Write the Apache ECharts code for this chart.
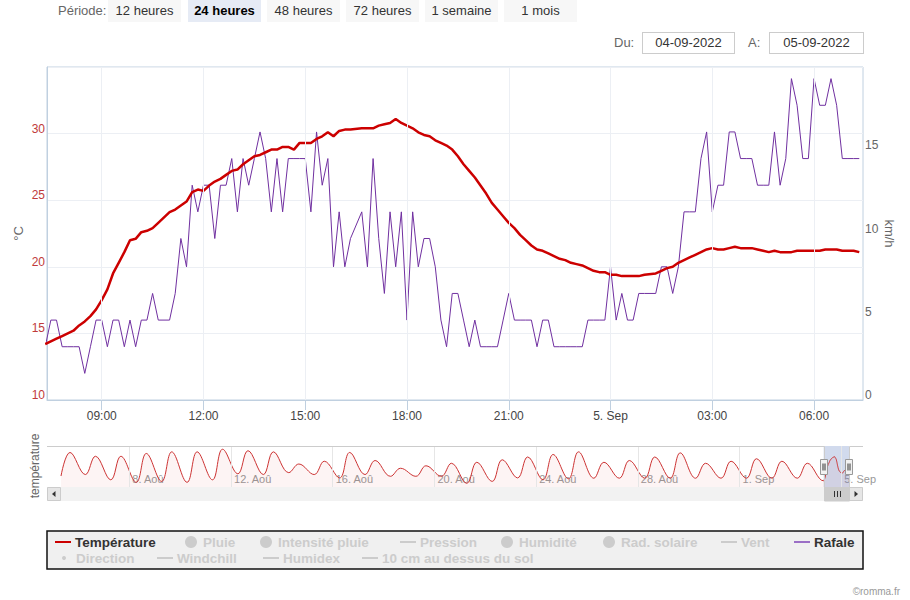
<!DOCTYPE html>
<html>
<head>
<meta charset="utf-8">
<script src="https://cdn.jsdelivr.net/npm/echarts@6/dist/echarts.min.js"></script>
<style>
  html, body { margin:0; padding:0; width:910px; height:600px; overflow:hidden; background:#fff;
    font-family:"Liberation Sans", Arial, sans-serif; }
  #chart { position:absolute; left:0; top:0; width:910px; height:600px; }
  .ui { position:absolute; font-size:13px; color:#666; }
  .btn { position:absolute; top:0; width:73px; height:22px; line-height:22px; text-align:center;
    background:#f7f7f7; color:#333; font-size:13px; }
  .btn.sel { background:#e6ebf5; font-weight:bold; color:#000; }
  .date { position:absolute; top:32px; height:20px; line-height:20px; border:1px solid #ccc;
    text-align:center; font-size:13px; color:#333; background:#fff; }
</style>
</head>
<body>
<div id="chart"></div>
<div class="ui" style="left:58px;top:3px;">Période:</div>
<div class="btn" style="left:108px;">12 heures</div>
<div class="btn sel" style="left:188px;">24 heures</div>
<div class="btn" style="left:267px;">48 heures</div>
<div class="btn" style="left:346px;">72 heures</div>
<div class="btn" style="left:425px;">1 semaine</div>
<div class="btn" style="left:504px;">1 mois</div>
<div class="ui" style="left:614px;top:35px;">Du:</div>
<div class="date" style="left:642px;width:91px;">04-09-2022</div>
<div class="ui" style="left:748px;top:35px;">A:</div>
<div class="date" style="left:769px;width:93px;">05-09-2022</div>
<script>
// ---------------- DATA ----------------
// 10-minute records from 04-09-2022 07:20 to 05-09-2022 07:20 (null = missing record)
const temperature = [
  14.2,
  14.4,14.6,14.8,15.0,15.2,15.6,15.9,16.3,16.8,17.5,
  18.3,19.5,20.3,21.1,22.0,22.1,22.6,22.7,22.9,23.3,
  null,
  24.1,24.3,24.6,24.9,25.6,25.8,25.7,26.1,26.4,26.6,
  26.9,27.2,27.3,27.7,28.0,28.3,28.4,28.6,28.8,28.8,
  29.0,29.0,28.8,29.3,29.3,29.3,29.6,29.8,30.1,29.8,
  30.2,30.3,30.3,
  null,
  30.4,30.4,30.4,30.6,30.7,30.8,31.1,
  30.8,30.6,30.4,30.1,29.9,29.8,29.5,29.3,29.1,28.8,
  28.3,27.7,27.2,26.7,26.1,25.5,24.8,24.3,23.8,23.3,
  22.9,22.4,22.0,21.6,21.3,21.2,21.0,20.8,20.6,20.5,
  20.3,20.2,20.1,19.9,19.7,19.6,19.6,19.4,19.4,19.3,
  19.3,19.3,19.3,19.4,
  null,
  19.5,19.7,19.9,20.0,20.3,20.5,
  20.7,20.9,21.1,21.3,21.4,21.3,21.3,21.4,21.5,21.4,
  21.4,21.4,21.3,21.2,21.1,21.2,21.1,21.1,21.1,21.2,
  21.2,21.2,21.2,21.2,21.3,21.3,21.3,21.2,21.2,21.2,
  21.1
];
const rafale = [
  3.2,
  4.8,4.8,3.2,3.2,3.2,3.2,1.6,3.2,4.8,4.8,
  3.2,4.8,4.8,3.2,4.8,3.2,4.8,4.8,6.4,4.8,
  null,
  4.8,6.4,9.7,8.0,12.9,11.3,12.9,12.9,9.7,12.9,
  12.9,14.5,11.3,14.5,12.9,14.5,16.1,14.5,11.3,14.5,
  11.3,14.5,14.5,14.5,14.5,11.3,16.1,12.9,14.5,8.0,
  11.3,8.0,9.7,
  null,
  11.3,8.0,14.5,9.7,6.4,11.3,8.0,
  11.3,4.8,11.3,8.0,9.7,9.7,8.0,4.8,3.2,6.4,
  6.4,4.8,3.2,4.8,3.2,3.2,3.2,3.2,4.8,6.4,
  4.8,4.8,4.8,4.8,3.2,4.8,4.8,3.2,3.2,3.2,
  3.2,3.2,3.2,4.8,4.8,4.8,4.8,8.0,4.8,6.4,
  4.8,4.8,6.4,6.4,
  null,
  6.4,8.0,8.0,6.4,8.0,11.3,
  11.3,11.3,14.5,16.1,11.3,12.9,12.9,16.1,16.1,14.5,
  14.5,14.5,12.9,12.9,12.9,16.1,12.9,14.5,19.3,17.7,
  14.5,14.5,19.3,17.7,17.7,19.3,17.7,14.5,14.5,14.5,
  14.5
];
const firstRecord = new Date(2022, 8, 4, 7, 20).getTime();
const recordStep = 10 * 60 * 1000;

const xTickTimes  = ['2022-09-04T09:00','2022-09-04T12:00','2022-09-04T15:00','2022-09-04T18:00',
                     '2022-09-04T21:00','2022-09-05T00:00','2022-09-05T03:00','2022-09-05T06:00'];
const xTickLabels = ['09:00','12:00','15:00','18:00','21:00','5. Sep','03:00','06:00'];

// navigator (one month): daily afternoon maxima (5 Aug -> 3 Sep) and morning minima (6 Aug -> 3 Sep)
const navFirstValue = 17.5;
const navDailyMax = [33.6,31.0,31.0,32.9,34.0,34.0,35.8,34.8,34.0,25.7,27.6,33.6,28.1,22.8,24.5,
                     26.2,26.9,28.6,30.5,32.2,34.0,26.9,28.1,30.5,33.3,26.2,27.6,29.3,27.6,26.2];
const navDailyMin = [18.5,14.9,13.2,13.8,13.2,14.9,19.0,18.5,19.8,18.5,16.2,18.5,17.3,17.3,17.3,
                     12.5,13.8,16.2,14.9,15.6,16.0,16.0,16.0,16.0,16.0,16.0,16.0,16.0,16.0];
const navTickTimes  = ['2022-08-08T00:00','2022-08-12T00:00','2022-08-16T00:00','2022-08-20T00:00',
                       '2022-08-24T00:00','2022-08-28T00:00','2022-09-01T00:00','2022-09-05T00:00'];
const navTickLabels = ['8. Aoû','12. Aoû','16. Aoû','20. Aoû','24. Aoû','28. Aoû','1. Sep','5. Sep'];

// ---------------- BUILD ----------------
const FONT = '"Liberation Sans", Arial, sans-serif';
const tickT = xTickTimes.map(s => new Date(s).getTime());
const navT  = navTickTimes.map(s => new Date(s).getTime());
const times = temperature.map((_, j) => firstRecord + j * recordStep);
const tempData = temperature.map((v, j) => [times[j], v]);
const gustData = rafale.map((v, j) => [times[j], v]);

const winStart = new Date(2022, 8, 4, 7, 23, 12).getTime();
const winEnd   = new Date(2022, 8, 5, 7, 26, 36).getTime();
const navStart = new Date(2022, 7, 5, 7, 30).getTime();
const navEnd   = times[times.length - 1];

const navData = [[navStart, navFirstValue]];
navDailyMax.forEach((mx, d) => {
  navData.push([new Date(2022, 7, 5 + d, 16, 0).getTime(), mx]);
  if (d < navDailyMin.length) navData.push([new Date(2022, 7, 6 + d, 6, 30).getTime(), navDailyMin[d]]);
});
tempData.forEach(p => { if (p[1] !== null) navData.push(p); });

const gridLine = c => ({ silent: true, symbol: 'none', label: { show: false },
  lineStyle: { color: c, width: 1, type: 'solid' }, emphasis: { disabled: true } });

const option = {
  animation: false,
  textStyle: { fontFamily: FONT },
  grid: [
    { left: 47, top: 67, width: 816, height: 333, show: true, borderColor: '#C0D0E0', borderWidth: 1 },
    { left: 61, top: 446, width: 788, height: 41, show: false }
  ],
  xAxis: [
    { type: 'value', gridIndex: 0, min: winStart, max: winEnd,
      axisLine: { lineStyle: { color: '#C0D0E0' } },
      axisTick: { show: true, length: 10, lineStyle: { color: '#C0D0E0' }, customValues: tickT },
      axisLabel: { customValues: tickT, color: '#444', fontSize: 12, margin: 10,
        formatter: v => { const i = tickT.indexOf(v); return i >= 0 ? xTickLabels[i] : ''; } },
      splitLine: { show: false } },
    { type: 'value', gridIndex: 1, min: navStart, max: navEnd,
      axisLine: { show: false }, axisTick: { show: false },
      axisLabel: { inside: true, customValues: navT, color: '#999', fontSize: 11, margin: 3,
        align: 'left', padding: [0, 0, 0, 3],
        formatter: v => { const i = navT.indexOf(v); return i >= 0 ? navTickLabels[i] : ''; } },
      splitLine: { show: false } }
  ],
  yAxis: [
    { type: 'value', gridIndex: 0, position: 'left', min: 10, max: 35, interval: 5,
      name: '°C', nameLocation: 'middle', nameRotate: 90, nameGap: 22, nameMoveOverlap: false,
      nameTextStyle: { color: '#666', fontSize: 13 },
      axisLine: { show: true, lineStyle: { color: '#C0D0E0' } }, axisTick: { show: false },
      axisLabel: { color: '#c03a3a', fontSize: 12, margin: 2, showMaxLabel: false,
        verticalAlign: 'bottom', lineHeight: 10 },
      splitLine: { lineStyle: { color: '#eceff4' } } },
    { type: 'value', gridIndex: 0, position: 'right', min: 0, max: 20, interval: 5,
      name: 'km/h', nameLocation: 'middle', nameRotate: -90, nameGap: 20, nameMoveOverlap: false,
      nameTextStyle: { color: '#666', fontSize: 13 },
      axisLine: { show: false }, axisTick: { show: false },
      axisLabel: { color: '#666', fontSize: 12, margin: 2, showMaxLabel: false,
        verticalAlign: 'bottom', lineHeight: 10 },
      splitLine: { show: false } },
    { type: 'value', gridIndex: 1, min: 10, max: 38, show: false, splitLine: { show: false } }
  ],
  series: [
    { name: 'grille', type: 'line', xAxisIndex: 0, yAxisIndex: 0, data: [[winStart, null]], z: 1,
      showSymbol: false, lineStyle: { opacity: 0 },
      markLine: Object.assign(gridLine('#eceff4'), { data: tickT.map(t => ({ xAxis: t })) }) },
    { name: 'Température', type: 'line', xAxisIndex: 0, yAxisIndex: 0, data: tempData,
      showSymbol: false, connectNulls: true, color: '#cc0000', z: 4,
      lineStyle: { width: 2.5, color: '#cc0000' } },
    { name: 'Rafale', type: 'line', xAxisIndex: 0, yAxisIndex: 1, data: gustData,
      showSymbol: false, connectNulls: true, color: '#7030a0', z: 3,
      lineStyle: { width: 1, color: '#7030a0' } },
    { name: 'nav', type: 'line', xAxisIndex: 1, yAxisIndex: 2, data: navData, smooth: 0.4,
      showSymbol: false, silent: true, z: 2,
      lineStyle: { width: 1, color: '#cc3333' }, areaStyle: { color: 'rgba(220,60,60,0.08)' },
      markLine: Object.assign(gridLine('#e6e6e6'), { data: navT.map(t => ({ xAxis: t })) }),
      markArea: { silent: true, itemStyle: { color: 'rgba(102,133,194,0.3)' },
        data: [[{ xAxis: winStart }, { xAxis: navEnd }]] } }
  ]
};

const chart = echarts.init(document.getElementById('chart'), null, { renderer: 'svg' });
chart.setOption(option);

// ---------------- decorations (legend, navigator chrome) ----------------
const zx0 = Math.round(chart.convertToPixel({ xAxisIndex: 1 }, winStart)) + 0.5;
const zx1 = Math.round(chart.convertToPixel({ xAxisIndex: 1 }, navEnd)) + 0.5;
const NAV_TOP = 446, NAV_BOT = 487, SB_H = 14, LEFT = 47, RIGHT = 863;

const g = [];
g.push({ type: 'polyline', silent: true, z: 20,
  shape: { points: [[LEFT, NAV_TOP + 0.5], [zx0, NAV_TOP + 0.5], [zx0, NAV_BOT + SB_H], [zx1, NAV_BOT + SB_H], [zx1, NAV_TOP + 0.5], [RIGHT, NAV_TOP + 0.5]] },
  style: { stroke: '#cccccc', lineWidth: 1, fill: null } });
g.push({ type: 'rect', silent: true, z: 10, shape: { x: LEFT, y: NAV_BOT, width: RIGHT - LEFT, height: SB_H }, style: { fill: '#f2f2f2' } });
g.push({ type: 'rect', silent: true, z: 11, shape: { x: LEFT + 0.5, y: NAV_BOT + 0.5, width: 13, height: 13 }, style: { fill: '#e6e6e6', stroke: '#cccccc' } });
g.push({ type: 'rect', silent: true, z: 11, shape: { x: RIGHT - 13.5, y: NAV_BOT + 0.5, width: 13, height: 13 }, style: { fill: '#e6e6e6', stroke: '#cccccc' } });
g.push({ type: 'polygon', silent: true, z: 12, shape: { points: [[LEFT + 8.5, NAV_BOT + 4], [LEFT + 8.5, NAV_BOT + 10], [LEFT + 5, NAV_BOT + 7]] }, style: { fill: '#333' } });
g.push({ type: 'polygon', silent: true, z: 12, shape: { points: [[RIGHT - 8.5, NAV_BOT + 4], [RIGHT - 8.5, NAV_BOT + 10], [RIGHT - 5, NAV_BOT + 7]] }, style: { fill: '#333' } });
g.push({ type: 'rect', silent: true, z: 11, shape: { x: zx0, y: NAV_BOT + 0.5, width: zx1 - zx0, height: 13 }, style: { fill: '#cccccc', stroke: '#cccccc' } });
const mid = Math.round((zx0 + zx1) / 2) + 0.5;
[-3, 0, 3].forEach(d => g.push({ type: 'line', silent: true, z: 12,
  shape: { x1: mid + d, y1: NAV_BOT + 4, x2: mid + d, y2: NAV_BOT + 10 }, style: { stroke: '#333', lineWidth: 1 } }));
[zx0, zx1].forEach(hx => {
  const hy = Math.round((NAV_TOP + NAV_BOT) / 2) - 7.5;
  g.push({ type: 'rect', silent: true, z: 21, shape: { x: hx - 4, y: hy, width: 7, height: 15 }, style: { fill: '#f2f2f2', stroke: '#999999', lineWidth: 1 } });
  g.push({ type: 'line', silent: true, z: 22, shape: { x1: hx - 1.5, y1: hy + 4, x2: hx - 1.5, y2: hy + 11 }, style: { stroke: '#333', lineWidth: 1 } });
  g.push({ type: 'line', silent: true, z: 22, shape: { x1: hx + 0.5, y1: hy + 4, x2: hx + 0.5, y2: hy + 11 }, style: { stroke: '#333', lineWidth: 1 } });
});
g.push({ type: 'text', silent: true, x: 35, y: 466, rotation: Math.PI / 2,
  style: { text: 'température', fill: '#666', font: '12px ' + FONT, align: 'center', verticalAlign: 'middle' } });

g.push({ type: 'rect', silent: true, z: 30, shape: { x: 47, y: 531, width: 816, height: 38 },
  style: { fill: '#f0f0f0', stroke: '#111', lineWidth: 1.5 } });
const ON = '#333', OFF = '#cccccc';
const legendItems = [
  { name: 'Température', sym: 'line', color: '#cc0000', text: ON, x: 55, row: 0 },
  { name: 'Pluie', sym: 'circle', color: OFF, text: OFF, x: 185, row: 0 },
  { name: 'Intensité pluie', sym: 'circle', color: OFF, text: OFF, x: 260, row: 0 },
  { name: 'Pression', sym: 'line', color: OFF, text: OFF, x: 400, row: 0 },
  { name: 'Humidité', sym: 'circle', color: OFF, text: OFF, x: 501, row: 0 },
  { name: 'Rad. solaire', sym: 'circle', color: OFF, text: OFF, x: 603, row: 0 },
  { name: 'Vent', sym: 'line', color: OFF, text: OFF, x: 721, row: 0 },
  { name: 'Rafale', sym: 'line', color: '#9b6fc6', text: ON, x: 794, row: 0 },
  { name: 'Direction', sym: 'dot', color: OFF, text: OFF, x: 58, row: 1 },
  { name: 'Windchill', sym: 'line', color: OFF, text: OFF, x: 157, row: 1 },
  { name: 'Humidex', sym: 'line', color: OFF, text: OFF, x: 263, row: 1 },
  { name: '10 cm au dessus du sol', sym: 'line', color: OFF, text: OFF, x: 362, row: 1 }
];
legendItems.forEach(it => {
  const cy = it.row === 0 ? 542 : 558;
  let tx;
  if (it.sym === 'line') {
    g.push({ type: 'rect', silent: true, z: 31, shape: { x: it.x, y: cy - 1, width: 16, height: 2 }, style: { fill: it.color } });
    tx = it.x + 20;
  } else if (it.sym === 'circle') {
    g.push({ type: 'circle', silent: true, z: 31, shape: { cx: it.x + 6, cy: cy, r: 6 }, style: { fill: it.color } });
    tx = it.x + 18;
  } else {
    g.push({ type: 'circle', silent: true, z: 31, shape: { cx: it.x + 6, cy: cy, r: 2 }, style: { fill: it.color } });
    tx = it.x + 18;
  }
  g.push({ type: 'text', silent: true, z: 31, x: tx, y: cy,
    style: { text: it.name, fill: it.text, font: 'bold 13.5px ' + FONT, lineHeight: 14, verticalAlign: 'middle' } });
});
g.push({ type: 'text', silent: true, x: 900, y: 591,
  style: { text: '©romma.fr', fill: '#999', font: '10px ' + FONT, align: 'right', verticalAlign: 'middle' } });

chart.setOption({ graphic: g });
</script>
</body>
</html>
